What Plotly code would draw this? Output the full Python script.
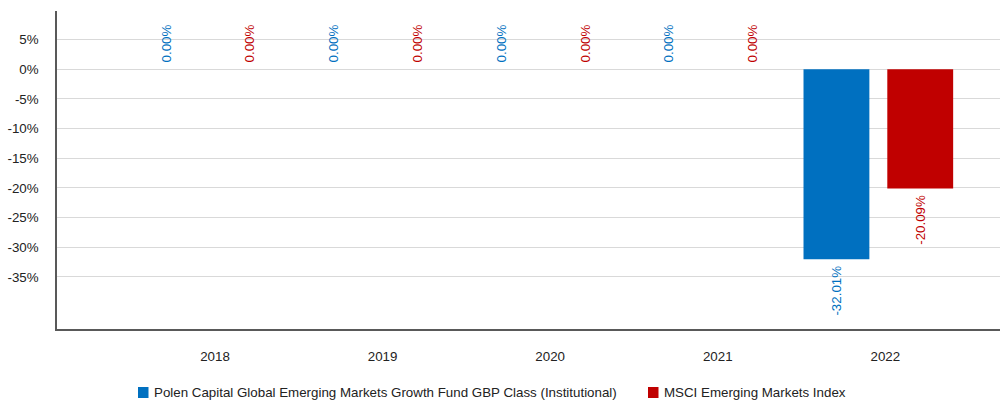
import plotly.graph_objects as go

years = ["2018", "2019", "2020", "2021", "2022"]
fund_values = [0.0, 0.0, 0.0, 0.0, -32.01]
index_values = [0.0, 0.0, 0.0, 0.0, -20.09]
fund_name = "Polen Capital Global Emerging Markets Growth Fund GBP Class (Institutional)"
index_name = "MSCI Emerging Markets Index"
y_ticks = [5, 0, -5, -10, -15, -20, -25, -30, -35]
y_labels = [f"{v}%" for v in y_ticks]

BLUE = "#0070C0"
RED = "#C00000"
FONT = "Arial, Liberation Sans, sans-serif"
FS = 13.33
TXT = "#222222"

W, H = 1002, 400
ML, MR, MT, MB = 57, 2, 11, 71
PW, PH = W - ML - MR, H - MT - MB


def px(x):
    return (x - ML) / PW


def py(y):
    return (H - MB - y) / PH


def bar_labels(vals):
    # a non-breaking space pads the label away from the bar end, like the reference
    out = []
    for v in vals:
        s = f"{v:.2f}%"
        out.append("\u00a0" + s if v >= 0 else s + "\u00a0")
    return out


fig = go.Figure()
for name, vals, col in [(fund_name, fund_values, BLUE), (index_name, index_values, RED)]:
    fig.add_trace(go.Bar(
        x=years, y=vals, name=name, marker=dict(color=col, line=dict(width=0)),
        text=bar_labels(vals), texttemplate="%{text}", textposition="outside", textangle=-90,
        textfont=dict(color=col, size=FS, family=FONT),
        constraintext="none", cliponaxis=False, showlegend=False,
    ))

# legend (drawn manually to match the compact reference layout)
legend_items = [(fund_name, BLUE, 138), (index_name, RED, 648)]
for name, col, x0 in legend_items:
    fig.add_shape(type="rect", xref="paper", yref="paper",
                  x0=px(x0), x1=px(x0 + 10.5), y0=py(398), y1=py(387),
                  fillcolor=col, line=dict(width=0))
    fig.add_annotation(text=name, xref="paper", yref="paper", x=px(x0 + 13.5), y=py(392.5),
                       xanchor="left", yanchor="middle", showarrow=False,
                       font=dict(size=FS, color=TXT, family=FONT))

fig.update_layout(
    width=W, height=H,
    margin=dict(l=ML, r=MR, t=MT, b=MB, autoexpand=False),
    paper_bgcolor="white", plot_bgcolor="white",
    barmode="group", bargap=0, bargroupgap=0.214,
    font=dict(family=FONT, size=FS, color=TXT),
    showlegend=False,
    xaxis=dict(type="category", range=[-0.901, 4.726], showgrid=False, automargin=False,
               showline=True, linecolor="#595959", linewidth=1.5,
               ticks="", ticklabelstandoff=14, ticklabelshift=7,
               tickfont=dict(size=FS, color=TXT)),
    yaxis=dict(range=[-43.76, 9.79], tickvals=y_ticks, ticktext=y_labels, automargin=False,
               showgrid=True, gridcolor="#d9d9d9", gridwidth=1,
               zeroline=True, zerolinecolor="#d9d9d9", zerolinewidth=1,
               showline=True, linecolor="#595959", linewidth=1.5,
               ticks="", ticklabelstandoff=14,
               tickfont=dict(size=FS, color=TXT)),
)

fig.write_html("out.html", config={"displayModeBar": False},
               post_script="document.body.style.margin='0';document.body.style.padding='0';"
                           "document.body.style.overflow='hidden';")
